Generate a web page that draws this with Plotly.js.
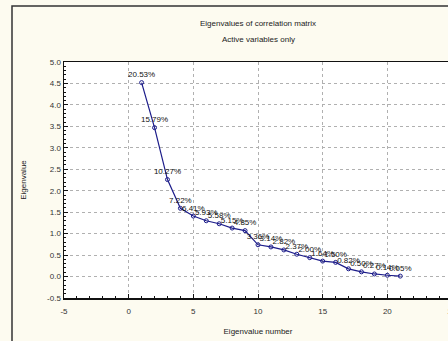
<!DOCTYPE html>
<html>
<head>
<meta charset="utf-8">
<script src="https://cdn.plot.ly/plotly-3.0.1.min.js"></script>
<style>
html,body{margin:0;padding:0;width:448px;height:341px;overflow:hidden;background:#fdfbf0;}
#chart{width:470px;height:341px;}
</style>
</head>
<body>
<div id="chart"></div>
<script>
const eigenNumbers = [1,2,3,4,5,6,7,8,9,10,11,12,13,14,15,16,17,18,19,20,21];
const eigenValues = [4.52,3.47,2.26,1.59,1.41,1.30,1.23,1.13,1.07,0.74,0.69,0.62,0.52,0.44,0.36,0.33,0.18,0.11,0.06,0.03,0.01];
const pctLabels = ["20.53%","15.79%","10.27%","7.22%","6.41%","5.93%","5.58%","5.15%","4.85%","3.36%","3.14%","2.82%","2.37%","2.00%","1.64%","1.50%","0.82%","0.50%","0.27%","0.14%","0.05%"];
const xTicks = [-5,0,5,10,15,20,25];
const yTicks = [-0.5,0,0.5,1,1.5,2,2.5,3,3.5,4,4.5,5];
const titleLine1 = "Eigenvalues of correlation matrix";
const titleLine2 = "Active variables only";

const W = 470, H = 341;
const m = {l:64, r:18, t:62, b:43};
const pw = W - m.l - m.r, ph = H - m.t - m.b;
const px = v => (v - m.l) / pw;
const py = v => (H - m.b - v) / ph;

const font = {family:"Liberation Sans, Arial, sans-serif", size:8, color:"#222"};

const trace = {
  x: eigenNumbers,
  y: eigenValues,
  text: pctLabels,
  type: "scatter",
  mode: "lines+markers+text",
  textposition: "top center",
  textfont: {family:font.family, size:8, color:"#111"},
  line: {color:"#1c1c8a", width:1.2},
  marker: {symbol:"circle-open", size:4, color:"#1c1c8a", line:{width:1}},
  cliponaxis: false,
  hoverinfo: "skip"
};

const layout = {
  width: W, height: H,
  margin: m,
  paper_bgcolor: "#fdfbf0",
  plot_bgcolor: "#ffffff",
  font: font,
  showlegend: false,
  title: {text: titleLine1, font:{family:font.family, size:8, color:"#222"},
          x: 0.5, xref:"paper", xanchor:"center", y: 1 - 23/H, yref:"container", yanchor:"middle"},
  annotations: [
    {text: titleLine2, xref:"paper", yref:"paper", x:0.5, y:py(39), xanchor:"center", yanchor:"middle",
     showarrow:false, font:{family:font.family, size:8, color:"#222"}}
  ],
  shapes: [
    {type:"rect", xref:"paper", yref:"paper", x0:px(12), x1:px(600), y0:py(6), y1:py(400),
     line:{color:"#333", width:1.5}, fillcolor:"rgba(0,0,0,0)", layer:"below"}
  ],
  xaxis: {
    range:[-5,25], tickvals:xTicks, ticktext:xTicks.map(String),
    showgrid:true, gridcolor:"#b0b0b0", griddash:"dot", gridwidth:1,
    zeroline:false, showline:true, linecolor:"#111", linewidth:1.5, mirror:true,
    ticks:"inside", ticklen:4, tickcolor:"#111",
    minor:{ticks:"inside", ticklen:2, dtick:1, tickcolor:"#111", showgrid:false},
    tickfont:{family:font.family, size:8, color:"#333"},
    ticklabelstandoff: 5,
    title:{text:"Eigenvalue number", font:{family:font.family, size:8, color:"#222"}, standoff:13}
  },
  yaxis: {
    range:[-0.5,5], tickvals:yTicks, ticktext:yTicks.map(v=>v.toFixed(1)),
    showgrid:true, gridcolor:"#b0b0b0", griddash:"dot", gridwidth:1,
    zeroline:false, showline:true, linecolor:"#111", linewidth:1.5, mirror:true,
    ticks:"inside", ticklen:4, tickcolor:"#111",
    minor:{ticks:"inside", ticklen:2, dtick:0.1, tickcolor:"#111", showgrid:false},
    tickfont:{family:font.family, size:8, color:"#333"},
    title:{text:"Eigenvalue", font:{family:font.family, size:8, color:"#222"}, standoff:19}
  }
};

Plotly.newPlot("chart", [trace], layout, {displayModeBar:false, staticPlot:true});
</script>
</body>
</html>
